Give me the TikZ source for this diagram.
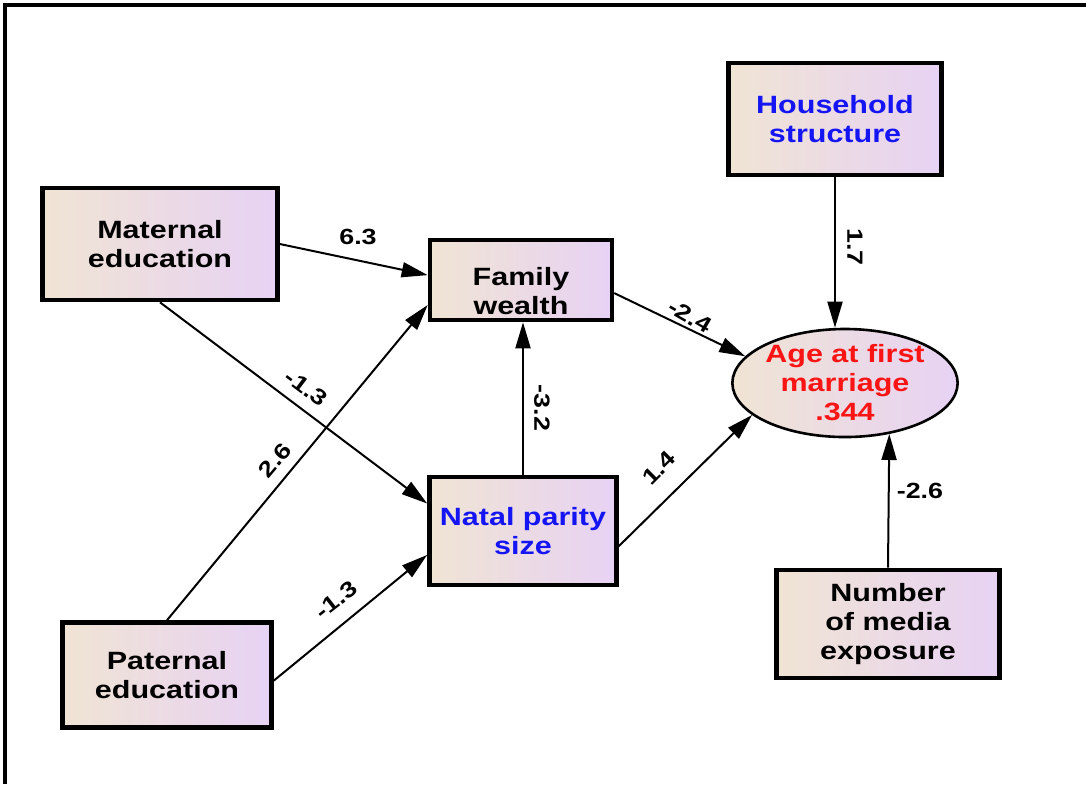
\documentclass[tikz,border=0pt]{standalone}
\usepackage{fontspec}
\setmainfont{Liberation Sans}[FakeStretch=1.22]
\usetikzlibrary{arrows.meta,shapes.geometric}
\definecolor{fillL}{RGB}{240,228,212}
\definecolor{fillR}{RGB}{231,210,244}
\definecolor{txtblue}{RGB}{20,20,245}
\definecolor{txtred}{RGB}{250,20,20}
\begin{document}
\begin{tikzpicture}[x=0.5pt,y=-0.5pt,
  var/.style={draw=black,line width=2.3pt,left color=fillL,right color=fillR,
    align=center,inner sep=2pt,font=\fontsize{12.5}{14.5}\selectfont\bfseries},
  latent/.style={ellipse,draw=black,line width=1.3pt,left color=fillL,right color=fillR,
    align=center,inner sep=0pt,font=\fontsize{12.5}{14.5}\selectfont\bfseries},
  path/.style={line width=1pt,-{Triangle[length=13pt,width=7.5pt]}},
  coef/.style={font=\fontsize{11}{12}\selectfont\bfseries,inner sep=1pt}]
\useasboundingbox (0,0) rectangle (1086,784);
% outer frame (left and top edges)
\draw[line width=1.6pt] (5,784) -- (5,5) -- (1086,5);

% observed variables
\node[var,minimum width=117.5pt,minimum height=56pt] (mat) at (160,244) {Maternal\\education};
\node[var,minimum width=91pt,minimum height=40pt,inner ysep=0pt] (fam) at (521,280) {\rule{0pt}{20pt}Family\\wealth};
\node[var,minimum width=106.5pt,minimum height=56pt,text=txtblue] (hh) at (835,119) {Household\\structure};
\node[var,minimum width=93.5pt,minimum height=54pt,text=txtblue] (nat) at (523,531) {Natal parity\\size};
\node[var,minimum width=104.5pt,minimum height=52.5pt] (pat) at (167,675) {Paternal\\education};
\node[var,minimum width=111.5pt,minimum height=54pt] (med) at (888,624) {Number\\of media\\exposure};
% outcome
\node[latent,minimum width=112.5pt,minimum height=53.5pt,text=txtred] (age) at (845,383) {Age at first\\marriage\\.344};

% paths
\draw[path] (mat.east) -- (fam.177);
\draw[path] (mat.south) -- (nat.164);
\draw[path] (pat.north) -- (fam.195);
\draw[path] (pat.357) -- (nat.194);
\draw[path] (nat.north) -- (nat.north |- fam.south);
\draw[path] (fam.352) -- (age.165);
\draw[path] (nat.351) -- (age.199);
\draw[path] (hh.south) -- (hh.south |- age.north);
\draw[path] (med.north) -- (age.311);

% path coefficients
\node[coef] (c1) at (358,237) {6.3};
\node[coef,rotate=-37] (c2) at (306,388) {-1.3};
\node[coef,rotate=50] (c3) at (275,460) {2.6};
\node[coef,rotate=38] (c4) at (336,600) {-1.3};
\node[coef,rotate=-90] (c5) at (542,408) {-3.2};
\node[coef,rotate=-30] (c6) at (690,316) {-2.4};
\node[coef,rotate=45] (c7) at (659,468) {1.4};
\node[coef,rotate=-90] (c8) at (855,247) {1.7};
\node[coef] (c9) at (920,491) {-2.6};
\end{tikzpicture}
\end{document}
